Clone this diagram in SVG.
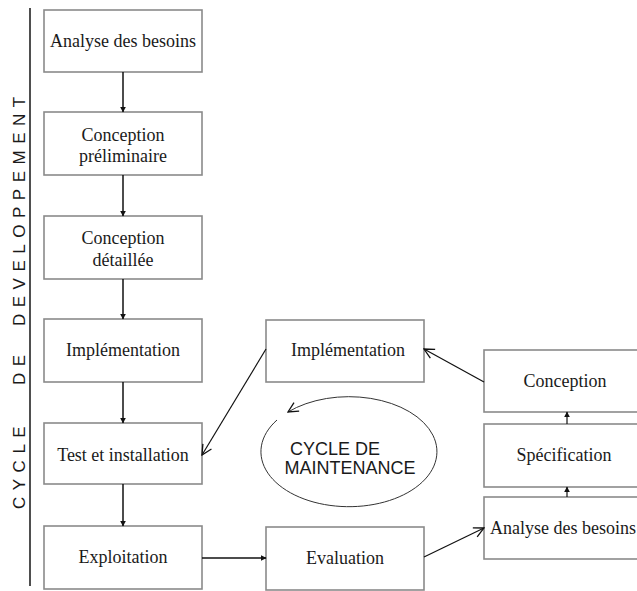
<svg xmlns="http://www.w3.org/2000/svg" width="637" height="591" viewBox="0 0 637 591">
  <style>
    .box { fill: #ffffff; stroke: #8a8a8a; stroke-width: 1.6; }
    .lbl { font-family: "Liberation Serif", "Times New Roman", serif; font-size: 18px; fill: #1a1a1a; text-anchor: middle; }
    .side { font-family: "Liberation Sans", Arial, sans-serif; font-size: 17px; fill: #1a1a1a; letter-spacing: 6.5px; }
    .cyc { font-family: "Liberation Sans", Arial, sans-serif; font-size: 18px; fill: #1a1a1a; text-anchor: middle; }
    .link { fill: none; stroke: #111111; stroke-width: 1.5; }
    .thin { fill: none; stroke: #111111; stroke-width: 1.2; }
  </style>
  <defs>
    <marker id="solid" viewBox="0 0 10 10" refX="9" refY="5" markerWidth="6" markerHeight="6" markerUnits="userSpaceOnUse" orient="auto">
      <path d="M0,0 L10,5 L0,10 z" fill="#111111"/>
    </marker>
    <marker id="open" viewBox="0 0 12 12" refX="11" refY="6" markerWidth="12" markerHeight="12" markerUnits="userSpaceOnUse" orient="auto">
      <path d="M1,1 L11,6 L1,11" fill="none" stroke="#111111" stroke-width="1.3"/>
    </marker>
  </defs>
  <rect width="637" height="591" fill="#ffffff"/>

  <!-- side title: development cycle -->
  <g id="side-title">
    <line x1="30" y1="8" x2="30" y2="586" stroke="#222222" stroke-width="1.6"/>
    <text class="side" transform="translate(25,326) rotate(-90)">DEVELOPPEMENT</text>
    <text class="side" transform="translate(25,385) rotate(-90)" letter-spacing="9">DE</text>
    <text class="side" transform="translate(25,509) rotate(-90)">CYCLE</text>
  </g>

  <!-- development column -->
  <g id="dev-analyse">
    <rect class="box" x="44" y="10" width="158" height="62"/>
    <text class="lbl" x="123" y="47">Analyse des besoins</text>
  </g>
  <g id="dev-conception-prelim">
    <rect class="box" x="44" y="112" width="158" height="63"/>
    <text class="lbl" x="123" y="141">Conception</text>
    <text class="lbl" x="123" y="162">préliminaire</text>
  </g>
  <g id="dev-conception-detail">
    <rect class="box" x="44" y="216" width="158" height="63"/>
    <text class="lbl" x="123" y="244">Conception</text>
    <text class="lbl" x="123" y="266">détaillée</text>
  </g>
  <g id="dev-implementation">
    <rect class="box" x="44" y="319" width="158" height="63"/>
    <text class="lbl" x="123" y="356">Implémentation</text>
  </g>
  <g id="dev-test">
    <rect class="box" x="44" y="423" width="158" height="61"/>
    <text class="lbl" x="123" y="461">Test et installation</text>
  </g>
  <g id="dev-exploitation">
    <rect class="box" x="44" y="526" width="158" height="63"/>
    <text class="lbl" x="123" y="563">Exploitation</text>
  </g>

  <!-- maintenance loop -->
  <g id="maint-evaluation">
    <rect class="box" x="266" y="527" width="158" height="63"/>
    <text class="lbl" x="345" y="564">Evaluation</text>
  </g>
  <g id="maint-implementation">
    <rect class="box" x="266" y="320" width="158" height="62"/>
    <text class="lbl" x="348" y="356">Implémentation</text>
  </g>
  <g id="maint-analyse">
    <rect class="box" x="484" y="497" width="162" height="62"/>
    <text class="lbl" x="563" y="534">Analyse des besoins</text>
  </g>
  <g id="maint-specification">
    <rect class="box" x="484" y="424" width="162" height="63"/>
    <text class="lbl" x="564" y="461">Spécification</text>
  </g>
  <g id="maint-conception">
    <rect class="box" x="484" y="350" width="162" height="62"/>
    <text class="lbl" x="565" y="387">Conception</text>
  </g>

  <!-- maintenance cycle badge -->
  <g id="maint-cycle">
    <path d="M277,420 A88,55 0 1 0 288,412" fill="none" stroke="#333333" stroke-width="1" marker-end="url(#open)"/>
    <text class="cyc" x="335" y="455">CYCLE DE</text>
    <text class="cyc" x="350" y="474">MAINTENANCE</text>
  </g>

  <!-- connectors -->
  <g id="connectors">
    <line class="link" x1="123" y1="72" x2="123" y2="112" marker-end="url(#solid)"/>
    <line class="link" x1="123" y1="175" x2="123" y2="216" marker-end="url(#solid)"/>
    <line class="link" x1="123" y1="279" x2="123" y2="319" marker-end="url(#solid)"/>
    <line class="link" x1="123" y1="382" x2="123" y2="423" marker-end="url(#solid)"/>
    <line class="link" x1="123" y1="484" x2="123" y2="526" marker-end="url(#solid)"/>
    <line class="link" x1="202" y1="558" x2="266" y2="558" marker-end="url(#solid)"/>
    <line class="thin" x1="424" y1="557" x2="484" y2="528" marker-end="url(#open)"/>
    <line class="thin" x1="567" y1="497" x2="567" y2="487" marker-end="url(#solid)"/>
    <line class="thin" x1="567" y1="424" x2="567" y2="412" marker-end="url(#solid)"/>
    <line class="thin" x1="484" y1="382" x2="424" y2="349" marker-end="url(#open)"/>
    <line class="thin" x1="266" y1="349" x2="202" y2="455" marker-end="url(#open)"/>
  </g>
</svg>
